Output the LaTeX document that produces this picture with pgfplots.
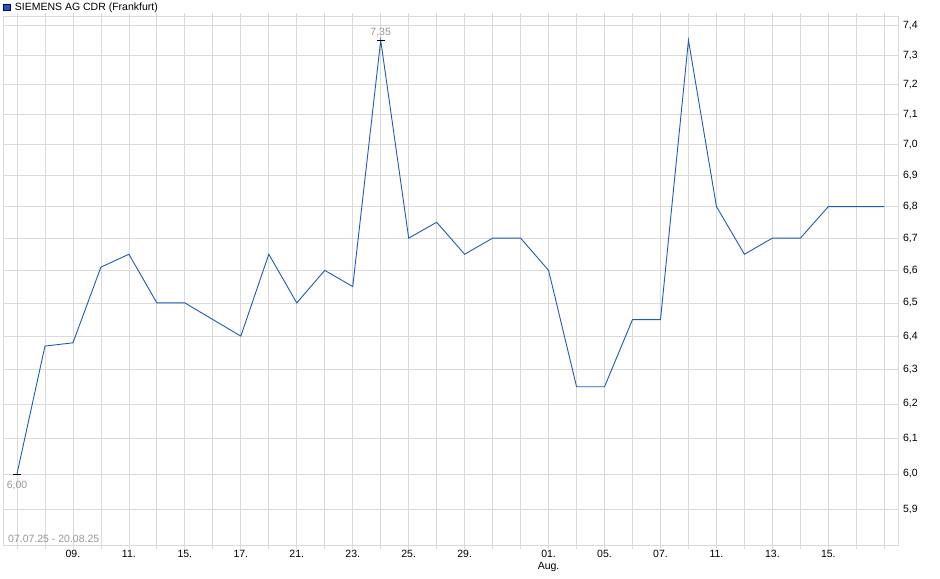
\documentclass[border=0pt]{standalone}
\usepackage{fontspec}
\setmainfont{Liberation Sans}
\usepackage{pgfplots}
\pgfplotsset{compat=1.18}

\definecolor{linecol}{RGB}{30,90,190}
\definecolor{gridcol}{RGB}{218,218,218}
\definecolor{labcol}{RGB}{150,150,150}

\begin{document}
\fontsize{10.5bp}{12bp}\selectfont
\begin{tikzpicture}
\useasboundingbox (0,0) rectangle (940bp,579bp);
\begin{axis}[
  at={(3bp,33.3bp)}, anchor=south west,
  scale only axis, width=895.3bp, height=529.7bp,
  xmin=-0.5, xmax=31.5,
  ymode=log, ymin=5.802, ymax=7.435,
  axis line style={gridcol},
  grid=major, major grid style={gridcol, line width=0.8bp},
  xtick={0,...,31},
  xticklabels={,,09.,,11.,,15.,,17.,,21.,,23.,,25.,,29.,,,{01.\\Aug.},,05.,,07.,,11.,,13.,,15.,,},
  xtick style={draw=gridcol, line width=0.8bp},
  tick align=outside, major tick length=3bp,
  xticklabel style={align=center, inner sep=1bp},
  ytick={5.9,6.0,6.1,6.2,6.3,6.4,6.5,6.6,6.7,6.8,6.9,7.0,7.1,7.2,7.3,7.4},
  yticklabels={{5,9},{6,0},{6,1},{6,2},{6,3},{6,4},{6,5},{6,6},{6,7},{6,8},{6,9},{7,0},{7,1},{7,2},{7,3},{7,4}},
  yticklabel pos=right,
  ytick style={draw=none},
  yticklabel style={anchor=west, xshift=-2bp},
  tick label style={font=\fontsize{10.5bp}{12bp}\selectfont, text=black},
  legend style={at={(axis description cs:0,1)}, anchor=south west,
    draw=none, fill=none, inner sep=0pt, yshift=2bp,
    font=\fontsize{10.5bp}{12bp}\selectfont},
  legend image code/.code={\draw[fill=linecol, draw=black!60!blue, line width=0.6bp] (0.4bp,-3.3bp) rectangle (7bp,3.3bp);},
  legend cell align=left,
]
\addplot[linecol, line width=0.9bp] coordinates {
  (0,6.00) (1,6.37) (2,6.38) (3,6.61) (4,6.65) (5,6.50) (6,6.50) (7,6.45)
  (8,6.40) (9,6.65) (10,6.50) (11,6.60) (12,6.55) (13,7.35) (14,6.70) (15,6.75)
  (16,6.65) (17,6.70) (18,6.70) (19,6.60) (20,6.25) (21,6.25) (22,6.45) (23,6.45)
  (24,7.35) (25,6.80) (26,6.65) (27,6.70) (28,6.70) (29,6.80) (30,6.80) (31,6.80)
};
\addlegendentry{\hspace{2.5bp}SIEMENS AG CDR (Frankfurt)}
% high and low markers
\addplot[forget plot, only marks, black, mark=-, mark size=4bp,
  mark options={line width=0.8bp},
  nodes near coords, point meta=explicit symbolic,
  nodes near coords style={text=labcol, anchor=south, inner sep=3bp,
    font=\fontsize{10.5bp}{12bp}\selectfont}]
  coordinates {(13,7.35) [7,35]};
\addplot[forget plot, only marks, black, mark=-, mark size=4bp,
  mark options={line width=0.8bp},
  nodes near coords, point meta=explicit symbolic,
  nodes near coords style={text=labcol, anchor=north, inner sep=1.5bp,
    yshift=-5bp, font=\fontsize{10.5bp}{12bp}\selectfont}]
  coordinates {(0,6.00) [6,00]};
\node[anchor=south west, text=labcol, inner sep=0pt, xshift=5bp, yshift=2.7bp]
  at (rel axis cs:0,0) {07.07.25 - 20.08.25};
\end{axis}
\end{tikzpicture}
\end{document}
